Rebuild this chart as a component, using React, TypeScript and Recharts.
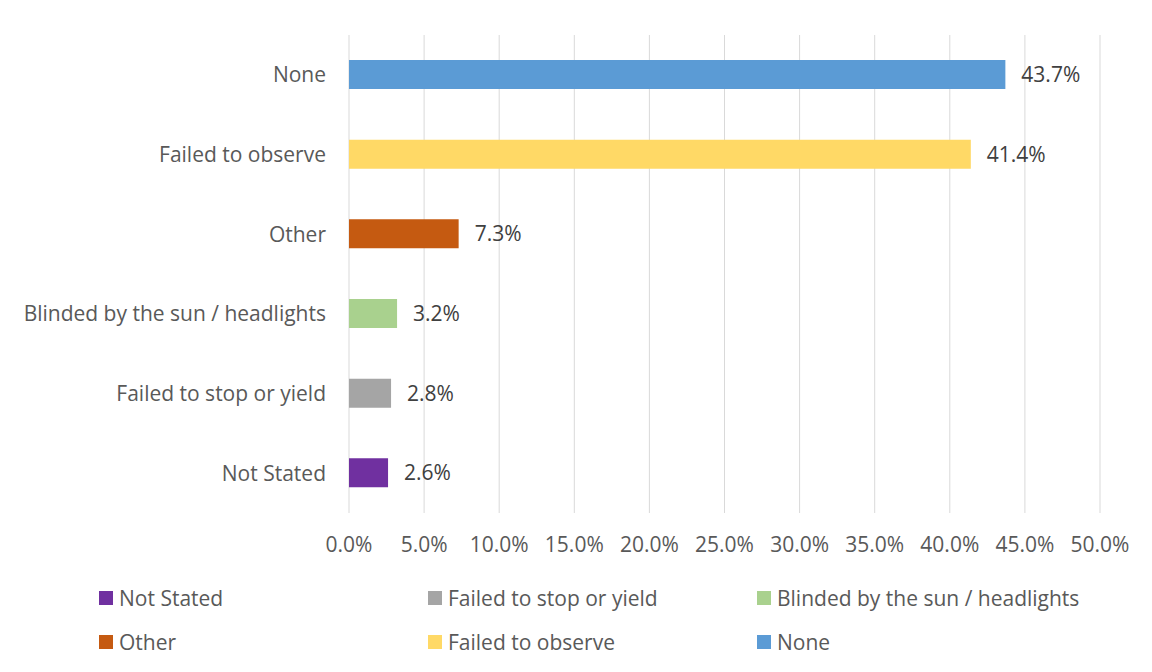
import { Bar, BarChart, CartesianGrid, Cell, LabelList, Legend, XAxis, YAxis } from 'recharts';

const categories = [
  'None',
  'Failed to observe',
  'Other',
  'Blinded by the sun / headlights',
  'Failed to stop or yield',
  'Not Stated'
];
const values = [43.7, 41.4, 7.3, 3.2, 2.8, 2.6];
const colors = ['#5B9BD5', '#FFD966', '#C55A11', '#A9D18E', '#A5A5A5', '#7030A0'];
const xTicks = [0, 5, 10, 15, 20, 25, 30, 35, 40, 45, 50];
// Excel lists the legend bottom-up
const legendOrder = [5, 4, 3, 2, 1, 0];

const data = categories.map((name, i) => ({ name, value: values[i] }));

const font = '"Open Sans", sans-serif';

const renderLegend = () => (
  <div
    style={{
      display: 'grid',
      gridTemplateColumns: '329px 329px 329px',
      rowGap: 24,
      fontFamily: font,
      fontSize: 21,
      color: '#595959'
    }}
  >
    {legendOrder.map((i) => (
      <div key={categories[i]} style={{ display: 'flex', alignItems: 'center', height: 20, whiteSpace: 'nowrap' }}>
        <span style={{ width: 14, height: 14, background: colors[i], marginRight: 6, display: 'inline-block' }} />
        <span>{categories[i]}</span>
      </div>
    ))}
  </div>
);

const App = () => {
  return (
    <div style={{ position: 'relative', margin: -8, width: 1152, height: 672, overflow: 'hidden', background: '#fff' }}>
      {/* chart frame: only the left and top edges fall inside the picture */}
      <div
        style={{
          position: 'absolute',
          left: 6,
          top: 4,
          width: 1300,
          height: 800,
          border: '2px solid #d9d9d9',
          zIndex: 5,
          pointerEvents: 'none'
        }}
      />
      <BarChart
        width={1152}
        height={672}
        data={data}
        layout="vertical"
        margin={{ top: 35, right: 52, bottom: 129, left: 0 }}
        style={{ position: 'absolute', left: 0, top: 0 }}
      >
        <CartesianGrid horizontal={false} stroke="#d9d9d9" />
        <XAxis
          type="number"
          domain={[0, 50]}
          ticks={xTicks}
          tickFormatter={(v: number) => `${v.toFixed(1)}%`}
          axisLine={false}
          tickLine={false}
          tickSize={0}
          tickMargin={24}
          height={30}
          interval={0}
          tick={{ fill: '#595959', fontSize: 21, fontFamily: font }}
        />
        <YAxis
          type="category"
          dataKey="name"
          width={349}
          axisLine={false}
          tickLine={false}
          tickSize={0}
          tickMargin={23}
          interval={0}
          tick={{ fill: '#595959', fontSize: 21, fontFamily: font }}
        />
        <Legend
          content={renderLegend}
          wrapperStyle={{ position: 'absolute', left: 99, top: 588, width: 1000, height: 0, overflow: 'visible' }}
        />
        <Bar dataKey="value" barSize={29} isAnimationActive={false}>
          {data.map((d, i) => (
            <Cell key={d.name} fill={colors[i]} />
          ))}
          <LabelList
            dataKey="value"
            position="right"
            offset={16}
            formatter={(v: number) => `${v.toFixed(1)}%`}
            style={{ fill: '#404040', fontSize: 21, fontFamily: font }}
          />
        </Bar>
      </BarChart>
    </div>
  );
};

export default App;
